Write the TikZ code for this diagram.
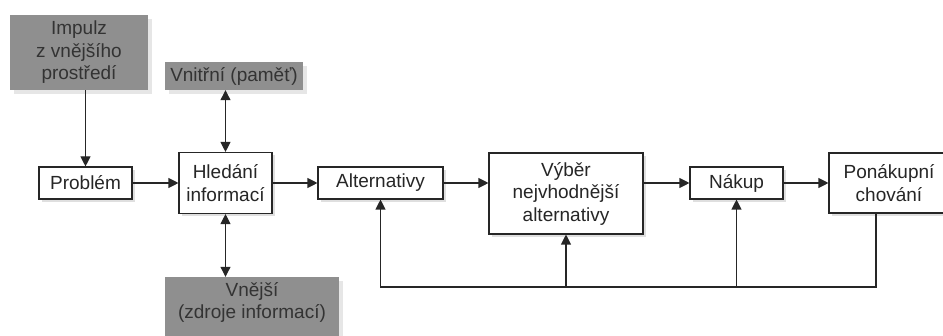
\documentclass[tikz,border=0pt]{standalone}
\usepackage{fontspec}
\setmainfont{Liberation Sans}
\usetikzlibrary{arrows.meta,shadows}
\definecolor{boxgray}{RGB}{143,143,143}
\tikzset{
  krok/.style={draw=black!85, fill=white, line width=1.1pt, align=center, inner sep=0pt,
    text=black!85, drop shadow={shadow xshift=3pt, shadow yshift=-3pt, opacity=.25}},
  zdroj/.style={fill=boxgray, align=center, inner sep=0pt, text=black!80,
    drop shadow={shadow xshift=4pt, shadow yshift=-4pt, opacity=.2}},
  sipka/.style={-{Triangle[length=10pt,width=10pt]}, line width=1.1pt, draw=black!85},
  obe/.style={{Triangle[length=10pt,width=10pt]}-{Triangle[length=10pt,width=10pt]}, line width=1.1pt, draw=black!85}
}
\begin{document}
\begin{tikzpicture}[x=1pt, y=-1pt, font=\fontsize{19}{22.5}\selectfont]
    \newcommand{\radek}{183}  % main row
    \newcommand{\zpet}{287}   % feedback line
    \useasboundingbox (0,0) rectangle (943,336);

    % sources
    \node[zdroj, minimum width=138pt, minimum height=75pt] (impulz) at (79,52.5) {Impulz\\z vnějšího\\prostředí};
    \node[zdroj, minimum width=138pt, minimum height=28pt] (vnitrni) at (234,76) {Vnitřní (paměť)};
    \node[zdroj, minimum width=174pt, minimum height=70pt] (vnejsi) at (252,312) {Vnější\\(zdroje informací)\\~};

    % steps
    \node[krok, minimum width=93pt, minimum height=32pt] (problem) at (85.5,\radek) {Problém};
    \node[krok, minimum width=93pt, minimum height=61pt] (hledani) at (225.5,\radek) {Hledání\\informací};
    \node[krok, minimum width=125pt, minimum height=32pt] (alternativy) at (380.5,\radek) {Alternativy};
    \node[krok, minimum width=154pt, minimum height=81pt] (vyber) at (566,193.5) {Výběr\\nejvhodnější\\alternativy};
    \node[krok, minimum width=93pt, minimum height=32pt] (nakup) at (736.5,\radek) {Nákup};
    \node[krok, minimum width=120pt, minimum height=60pt] (ponakupni) at (889,\radek) {Ponákupní\\chování};

    % arrows
    \draw[sipka] (impulz.south -| problem.north) -- (problem.north);
    \draw[obe] (vnitrni.south -| hledani.north) -- (hledani.north);
    \draw[obe] (hledani.south) -- (vnejsi.north -| hledani.south);
    \draw[sipka] (problem) -- (hledani);
    \draw[sipka] (hledani) -- (alternativy);
    \draw[sipka] (alternativy.east) -- (alternativy.east -| vyber.west);
    \draw[sipka] (vyber.east |- nakup.west) -- (nakup.west);
    \draw[sipka] (nakup) -- (ponakupni);

    % feedback
    \coordinate (zpet) at (876,\zpet);
    \draw[sipka] (ponakupni.south -| zpet) -- (zpet) -- (zpet -| alternativy.south) -- (alternativy.south);
    \draw[sipka] (zpet -| vyber.south) -- (vyber.south);
    \draw[sipka] (zpet -| nakup.south) -- (nakup.south);
\end{tikzpicture}
\end{document}
